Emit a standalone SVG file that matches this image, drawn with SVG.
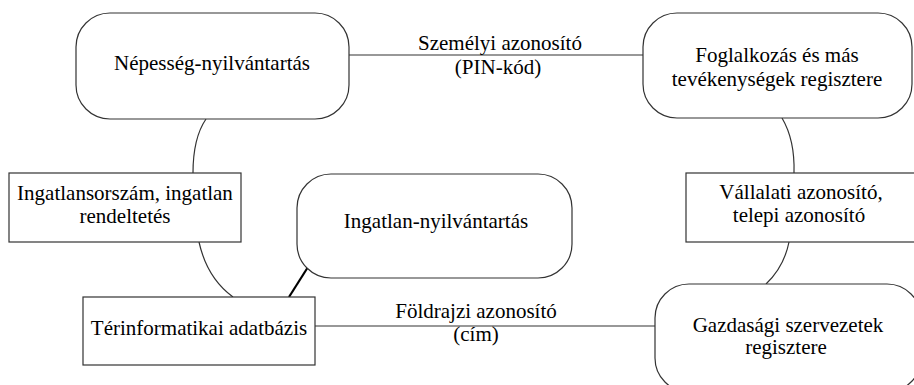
<svg xmlns="http://www.w3.org/2000/svg" width="914" height="385" viewBox="0 0 914 385">
<style>
  .node{fill:#fff;stroke:#333;stroke-width:1.2}
  .conn{fill:none;stroke:#333;stroke-width:1.2}
  .thick{fill:none;stroke:#000;stroke-width:2.2}
  .t{font-family:'Liberation Serif','Times New Roman',Times,serif;font-size:21px;fill:#000;text-anchor:middle}
</style>
<rect width="914" height="385" fill="#fff"/>
<g id="connectors">
  <line class="conn" x1="349" y1="55" x2="643" y2="55"/>
  <line class="conn" x1="315" y1="326" x2="655" y2="326"/>
  <path class="conn" d="M206,119 Q193,138 193,173"/>
  <path class="conn" d="M199,242 Q207,278 233,297"/>
  <path class="conn" d="M782,118 Q795,140 794,173"/>
  <path class="conn" d="M789,242 Q784,267 766,284"/>
  <line class="thick" x1="308" y1="267" x2="289" y2="297"/>
  <text class="t" font-family="Liberation Serif" x="500" y="50">Személyi azonosító</text>
  <text class="t" font-family="Liberation Serif" x="498" y="74">(PIN-kód)</text>
  <text class="t" font-family="Liberation Serif" x="476" y="318">Földrajzi azonosító</text>
  <text class="t" font-family="Liberation Serif" x="476" y="341">(cím)</text>
</g>
<g id="nepesseg">
  <rect class="node" x="76" y="13" width="273" height="106" rx="34" ry="34"/>
  <text class="t" font-family="Liberation Serif" x="212" y="70">Népesség-nyilvántartás</text>
</g>
<g id="foglalkozas">
  <rect class="node" x="643" y="13" width="269" height="105" rx="34" ry="34"/>
  <text class="t" font-family="Liberation Serif" x="777" y="62">Foglalkozás és más</text>
  <text class="t" font-family="Liberation Serif" x="777" y="86">tevékenységek regisztere</text>
</g>
<g id="ingatlansorszam">
  <rect class="node" x="9" y="173" width="232" height="69"/>
  <text class="t" font-family="Liberation Serif" x="125" y="200">Ingatlansorszám, ingatlan</text>
  <text class="t" font-family="Liberation Serif" x="125" y="223">rendeltetés</text>
</g>
<g id="ingatlan-nyilvantartas">
  <rect class="node" x="297" y="174" width="275" height="104" rx="34" ry="34"/>
  <text class="t" font-family="Liberation Serif" x="436" y="228">Ingatlan-nyilvántartás</text>
</g>
<g id="vallalati">
  <rect class="node" x="686" y="173" width="232" height="69"/>
  <text class="t" font-family="Liberation Serif" x="801" y="199">Vállalati azonosító,</text>
  <text class="t" font-family="Liberation Serif" x="799" y="222">telepi azonosító</text>
</g>
<g id="terinformatikai">
  <rect class="node" x="83" y="297" width="232" height="68"/>
  <text class="t" font-family="Liberation Serif" x="199" y="335">Térinformatikai adatbázis</text>
</g>
<g id="gazdasagi">
  <rect class="node" x="655" y="284" width="266" height="108" rx="34" ry="34"/>
  <text class="t" font-family="Liberation Serif" x="788" y="332">Gazdasági szervezetek</text>
  <text class="t" font-family="Liberation Serif" x="786" y="354">regisztere</text>
</g>
</svg>
